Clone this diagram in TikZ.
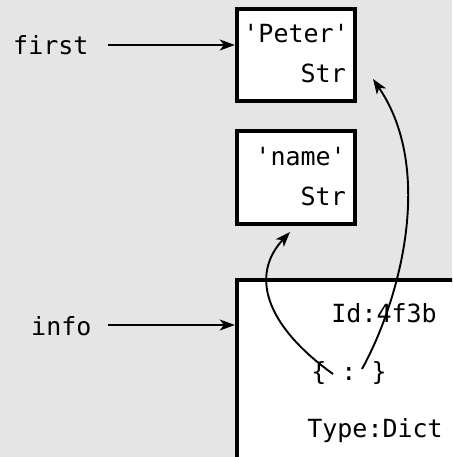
\documentclass[tikz,border=0pt]{standalone}
\usepackage{fontspec}
\setmonofont{DejaVu Sans Mono}
\usetikzlibrary{arrows.meta}
\definecolor{bg}{HTML}{E5E5E5}
\tikzset{
  objbox/.style={draw=black, line width=4pt, fill=white},
  lbl/.style={inner sep=0pt, font=\fontsize{25}{30}\selectfont\ttfamily},
  ref/.style={line width=1.9pt, -{Stealth[length=15pt,width=11pt,inset=4pt]}},
}
\begin{document}
\begin{tikzpicture}[x=1pt,y=-1pt]
\clip (0,0) rectangle (452,457);
\fill[bg] (0,0) rectangle (452,457);
% boxes
\draw[objbox] (237,9) rectangle (355,101);
\node[inner sep=0pt, minimum width=122pt, minimum height=96pt] (peter) at (296,55) {};
\draw[objbox] (237,131) rectangle (355,224);
\node[inner sep=0pt, minimum width=122pt, minimum height=97pt] (name) at (296,177.5) {};
\draw[objbox] (237,280) rectangle (470,480);
\node[inner sep=0pt, minimum width=237pt, minimum height=204pt] (dict) at (353.5,380) {};
% texts
\node[lbl, anchor=base east] (t1) at (349,43) {'Peter'};
\node[lbl, anchor=base east] (t2) at (346,83) {Str};
\node[lbl, anchor=base east] (t3) at (346,165) {'name'};
\node[lbl, anchor=base east] (t4) at (346,205) {Str};
\node[lbl, anchor=base east] (t5) at (437,322) {Id:4f3b};
\node[lbl, anchor=base] (t6) at (349,380) {\{ : \}};
\node[lbl, anchor=base east] (t7) at (443,437) {Type:Dict};
\node[lbl, anchor=base west] (first) at (13,55) {first};
\node[lbl, anchor=base west] (info) at (31,335) {info};
% variable arrows
\coordinate (fa) at (108,45);
\coordinate (ia) at (108,325);
\draw[ref] (fa) -- (peter.west |- fa);
\draw[ref] (ia) -- (dict.west |- ia);
% dict references
\coordinate (k) at (333,374);
\coordinate (v) at (362,369);
\coordinate (kt) at (290,232);
\coordinate (vt) at (373,79);
\draw[ref] (k) .. controls (265,325) and (250,275) .. (kt);
\draw[ref] (v) .. controls (400,300) and (435,170) .. (vt);
\end{tikzpicture}
\end{document}
